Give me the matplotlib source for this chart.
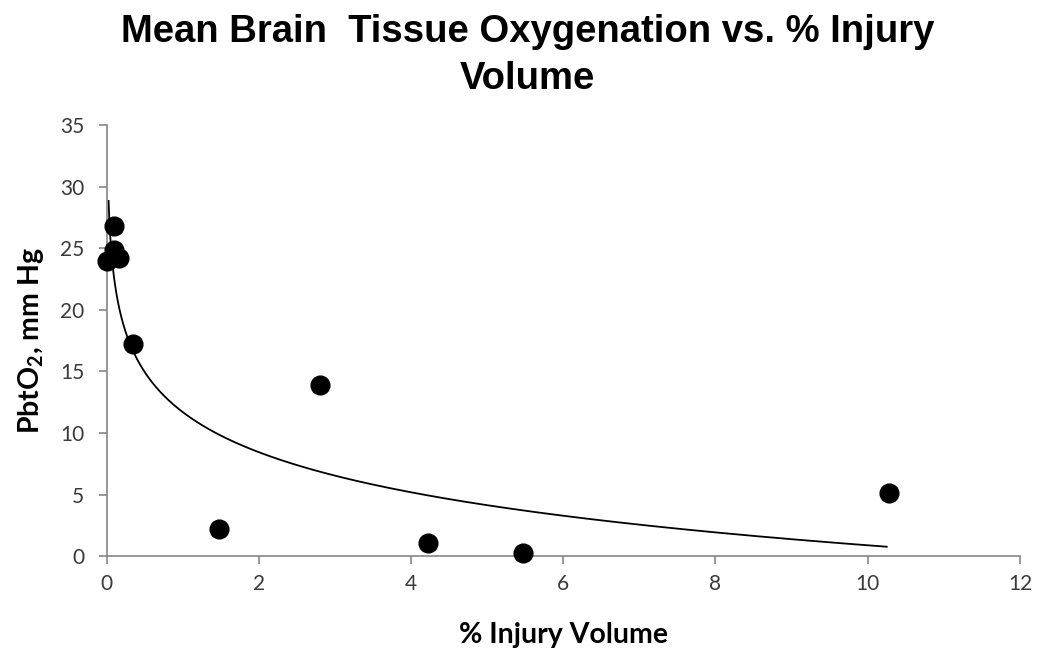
import numpy as np
import matplotlib
matplotlib.use("Agg")
import matplotlib.pyplot as plt

# Data
injury_pct = [0.0, 0.10, 0.10, 0.16, 0.35, 1.48, 2.81, 4.22, 5.47, 10.28]
pbto2 = [24.0, 26.8, 24.9, 24.2, 17.2, 2.2, 13.9, 1.1, 0.25, 5.1]

# Logarithmic trendline y = a*ln(x) + b (coefficients)
trend_a = -4.70
trend_b = 11.7
trend_xmin, trend_xmax = 0.026, 10.25

x_ticks = [0, 2, 4, 6, 8, 10, 12]
y_ticks = [0, 5, 10, 15, 20, 25, 30, 35]

plt.rcParams['font.family'] = ['Lato', 'DejaVu Sans']
plt.rcParams['mathtext.fontset'] = 'custom'
plt.rcParams['mathtext.rm'] = 'Lato'
plt.rcParams['mathtext.bf'] = 'Lato:bold'

fig = plt.figure(figsize=(10.45, 6.66), dpi=100)
ax = fig.add_axes([0.102, 0.165, 0.874, 0.647])

tx = np.geomspace(trend_xmin, trend_xmax, 400)
ty = trend_a * np.log(tx) + trend_b
ax.plot(tx, ty, color='black', lw=1.3, zorder=2)

ax.plot(injury_pct, pbto2, 'o', color='black', markersize=13.5, zorder=3, clip_on=False)

ax.set_xlim(0, 12)
ax.set_ylim(0, 35)
ax.set_xticks(x_ticks)
ax.set_yticks(y_ticks)

for s in ['top', 'right']:
    ax.spines[s].set_visible(False)
for s in ['left', 'bottom']:
    ax.spines[s].set_color('#868686')
    ax.spines[s].set_linewidth(1.2)
ax.tick_params(axis='both', colors='#868686', labelcolor='#3a3a3a', labelsize=15,
               direction='out', length=6, width=1.2)
ax.tick_params(axis='x', pad=7)
ax.tick_params(axis='y', pad=10)

ax.set_xlabel('% Injury Volume', fontsize=20.5, fontweight='bold', labelpad=20)
ax.set_ylabel('PbtO$_\\mathbf{2}$, mm Hg', fontsize=20.5, fontweight='bold', labelpad=10)

fig.suptitle('Mean Brain  Tissue Oxygenation vs. % Injury\nVolume', fontsize=27.5,
             fontweight='bold', family='Liberation Sans', x=0.505, y=0.979,
             linespacing=1.38)

fig.savefig('out.png', dpi=100)
